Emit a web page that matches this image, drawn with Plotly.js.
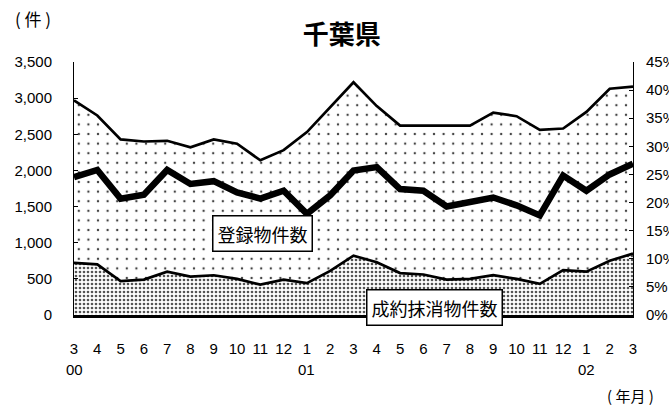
<!DOCTYPE html>
<html>
<head>
<meta charset="utf-8">
<script src="https://cdn.plot.ly/plotly-3.0.1.min.js"></script>
<style>html,body{margin:0;padding:0;background:#fff;}#chart{width:669px;height:405px;}</style>
</head>
<body>
<div id="chart"></div>
<script>
// Month labels (2000/3 .. 2002/3)
const months = ['3','4','5','6','7','8','9','10','11','12','1','2','3','4','5','6','7','8','9','10','11','12','1','2','3'];
const years  = ['00','00','00','00','00','00','00','00','00','00','01','01','01','01','01','01','01','01','01','01','01','01','02','02','02'];
// 登録物件数 (件)
const registrations = [2970,2760,2430,2400,2410,2320,2430,2370,2140,2280,2530,2870,3220,2890,2620,2620,2620,2620,2800,2750,2560,2580,2810,3130,3160];
// 成約抹消物件数 (件)
const contracts = [720,700,470,490,600,530,550,500,420,490,440,610,820,730,580,560,490,500,550,500,430,620,600,750,850];
// 成約率 (%) right axis
const ratio = [24.5,25.8,20.7,21.4,25.8,23.3,23.8,21.8,20.7,22.1,18.0,21.3,25.7,26.3,22.4,22.1,19.3,20.1,20.9,19.5,17.7,24.8,22.1,25.0,26.9];

const idx = months.map((m,i)=>i);
const latin = 'Liberation Sans, Arial, sans-serif';
const cjk = 'Noto Sans CJK JP, sans-serif';

const traces = [
  {x: idx, y: registrations, type:'scatter', mode:'lines', fill:'tozeroy',
   line:{color:'#000', width:2.7}, fillcolor:'#fff',
   fillpattern:{shape:'.', size:9.6, solidity:0.05, fgcolor:'#444', bgcolor:'#fff'},
   hoverinfo:'skip'},
  {x: idx, y: contracts, type:'scatter', mode:'lines', fill:'tozeroy',
   line:{color:'#000', width:2.7}, fillcolor:'#fff',
   fillpattern:{shape:'.', size:4, solidity:0.35, fgcolor:'#555', bgcolor:'#fff'},
   hoverinfo:'skip'},
  {x: idx, y: ratio, yaxis:'y2', type:'scatter', mode:'lines',
   line:{color:'#000', width:6.5}, hoverinfo:'skip'}
];

const annotations = [];
years.forEach((y,i)=>{
  if(i===0 || months[i]==='1'){
    annotations.push({x:i, xref:'x', y:-0.217, yref:'paper', text:y, showarrow:false,
      font:{family:latin, size:15, color:'#000'}, xanchor:'center', yanchor:'middle'});
  }
});
annotations.push(
  {x:-0.073, y:1.17, xref:'paper', yref:'paper', text:'( 件 )', showarrow:false,
   font:{family:cjk, size:17, color:'#000'}, xanchor:'center', yanchor:'middle'},
  {x:0.995, y:-0.318, xref:'paper', yref:'paper', text:'( 年月 )', showarrow:false,
   font:{family:cjk, size:15, color:'#000'}, xanchor:'center', yanchor:'middle'},
  {x:0.337, y:0.324, xref:'paper', yref:'paper', text:'登録物件数', showarrow:false,
   font:{family:cjk, size:18, color:'#000'}, bgcolor:'#fff', bordercolor:'#000',
   borderwidth:1.5, borderpad:4, xanchor:'center', yanchor:'middle'},
  {x:0.645, y:0.03, xref:'paper', yref:'paper', text:'成約抹消物件数', showarrow:false,
   font:{family:cjk, size:18, color:'#000'}, bgcolor:'#fff', bordercolor:'#000',
   borderwidth:1.5, borderpad:4, xanchor:'center', yanchor:'middle'}
);

const layout = {
  width:669, height:405,
  margin:{l:74, r:36, t:62, b:90, pad:0},
  paper_bgcolor:'#fff', plot_bgcolor:'#fff',
  showlegend:false,
  title:{text:'<b>千葉県</b>', font:{family:cjk, size:26, color:'#000'},
         x:0.511, xref:'container', xanchor:'center', y:0.914, yref:'container', yanchor:'middle'},
  xaxis:{range:[0,24], tickmode:'array', tickvals:idx, ticktext:months,
         showgrid:false, zeroline:false, showline:true, linecolor:'#000', linewidth:3,
         ticks:'', ticklabelstandoff:18, tickfont:{family:latin, size:15, color:'#000'}, fixedrange:true},
  yaxis:{range:[0,3500], dtick:500, tickformat:',d', showgrid:false, zeroline:false,
         showline:true, linecolor:'#000', linewidth:1, ticks:'inside', ticklen:4, tickcolor:'#000',
         ticklabelstandoff:18, tickfont:{family:latin, size:15, color:'#000'}},
  yaxis2:{range:[0,45], dtick:5, ticksuffix:'%', overlaying:'y', side:'right', showgrid:false,
          zeroline:false, showline:true, linecolor:'#000', linewidth:1, ticks:'inside', ticklen:4,
          tickcolor:'#000', ticklabelstandoff:9, tickfont:{family:latin, size:15, color:'#000'}},
  annotations: annotations
};

Plotly.newPlot('chart', traces, layout, {displayModeBar:false, staticPlot:true});
</script>
</body>
</html>
